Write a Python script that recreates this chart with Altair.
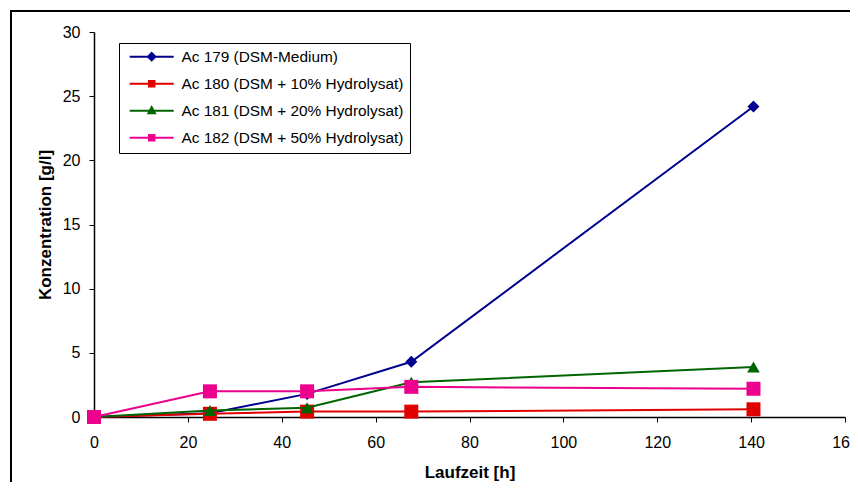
import altair as alt
import pandas as pd

# ---- data ----
times = [0, 24.7, 45.4, 67.6, 140.5]
series_names = [
    "Ac 179 (DSM-Medium)",
    "Ac 180 (DSM + 10% Hydrolysat)",
    "Ac 181 (DSM + 20% Hydrolysat)",
    "Ac 182 (DSM + 50% Hydrolysat)",
]
ac179 = [0.0, 0.3, 1.8, 4.3, 24.2]
ac180 = [0.0, 0.25, 0.42, 0.42, 0.6]
ac181 = [0.0, 0.5, 0.72, 2.7, 3.9]
ac182 = [0.0, 2.0, 2.0, 2.35, 2.2]

x_ticks = [0, 20, 40, 60, 80, 100, 120, 140, 160]
y_ticks = [0, 5, 10, 15, 20, 25, 30]

# ---- styles ----
colors = ["#000090", "#E00000", "#006400", "#EC008C"]
marker_shapes = ["diamond", "square", "triangle-up", "square"]
marker_sizes = [144, 196, 160, 196]
legend_paths = [
    "M-4.4,0H4.4M0,-0.75L0.75,0L0,0.75L-0.75,0Z",
    "M-4.4,0H4.4M-0.55,-0.55H0.55V0.55H-0.55Z",
    "M-4.4,0H4.4M0,-0.7L0.65,0.5L-0.65,0.5Z",
    "M-4.4,0H4.4M-0.55,-0.55H0.55V0.55H-0.55Z",
]
FONT = "Liberation Sans"

rows = []
for name, vals in zip(series_names, [ac179, ac180, ac181, ac182]):
    for t, v in zip(times, vals):
        rows.append({"Serie": name, "Laufzeit": t, "Konz": v})
df = pd.DataFrame(rows)

x_enc = alt.X(
    "Laufzeit:Q",
    scale=alt.Scale(domain=[0, 160], nice=False, zero=False),
    axis=alt.Axis(
        values=x_ticks, title="Laufzeit [h]", grid=False,
        tickSize=5, tickColor="black", domainColor="black", domainWidth=1.5,
        labelFontSize=16, labelFont=FONT, labelColor="black", labelPadding=12,
        titleFontSize=17, titleFont=FONT, titleFontWeight="bold", titleColor="black",
        titlePadding=14, labelFlush=False, labelOverlap=False,
    ),
)
y_enc = alt.Y(
    "Konz:Q",
    scale=alt.Scale(domain=[0, 30], nice=False),
    axis=alt.Axis(
        values=y_ticks, title="Konzentration [g/l]", grid=False,
        tickSize=5, tickColor="black", domainColor="black", domainWidth=1.5,
        labelFontSize=16, labelFont=FONT, labelColor="black", labelPadding=9,
        titleFontSize=17, titleFont=FONT, titleFontWeight="bold", titleColor="black",
        titlePadding=8, labelFlush=False, labelOverlap=False,
    ),
)

base = alt.Chart(df)

series_layers = []
for i, (name, col, shp, sz) in enumerate(zip(series_names, colors, marker_shapes, marker_sizes)):
    sub = base.transform_filter(alt.datum.Serie == name)
    if i == 0:
        ln = sub.mark_line(strokeWidth=2, color=col).encode(x=x_enc, y=y_enc)
    else:
        ln = sub.mark_line(strokeWidth=2, color=col).encode(x="Laufzeit:Q", y="Konz:Q")
    pt = sub.mark_point(filled=True, shape=shp, size=sz, opacity=1, color=col).encode(
        x="Laufzeit:Q", y="Konz:Q")
    series_layers += [ln, pt]

legend_layer = base.mark_point(
    filled=True, size=100, strokeWidth=2, opacity=1, clip=True
).encode(
    x=alt.value(-400), y=alt.value(-400),
    fill=alt.Fill("Serie:N", scale=alt.Scale(domain=series_names, range=colors),
                  legend=alt.Legend(
                      orient="none", legendX=25, legendY=11, title=None,
                      strokeColor="black", fillColor="white", padding=6,
                      labelFontSize=15.4, labelFont=FONT, labelColor="black",
                      rowPadding=10, symbolOffset=19, labelOffset=22,
                      symbolSize=100, symbolStrokeWidth=2, labelLimit=400,
                  )),
    stroke=alt.Stroke("Serie:N", scale=alt.Scale(domain=series_names, range=colors)),
    shape=alt.Shape("Serie:N", scale=alt.Scale(domain=series_names, range=legend_paths)),
)

frame = alt.Chart(pd.DataFrame({"k": [0]})).mark_rect(
    fill="transparent", stroke="black", strokeWidth=2, clip=False
).encode(
    x=alt.value(-83), x2=alt.value(900), y=alt.value(-21), y2=alt.value(600)
)

chart = alt.layer(frame, *series_layers, legend_layer).properties(
    width=751, height=385,
    padding={"left": 86, "top": 24, "right": 5, "bottom": 65},
    autosize=alt.AutoSizeParams(type="none"),
    background="white",
).configure(font=FONT).configure_view(stroke=None)

chart.save("out.html", embed_options={"renderer": "svg", "actions": False})
